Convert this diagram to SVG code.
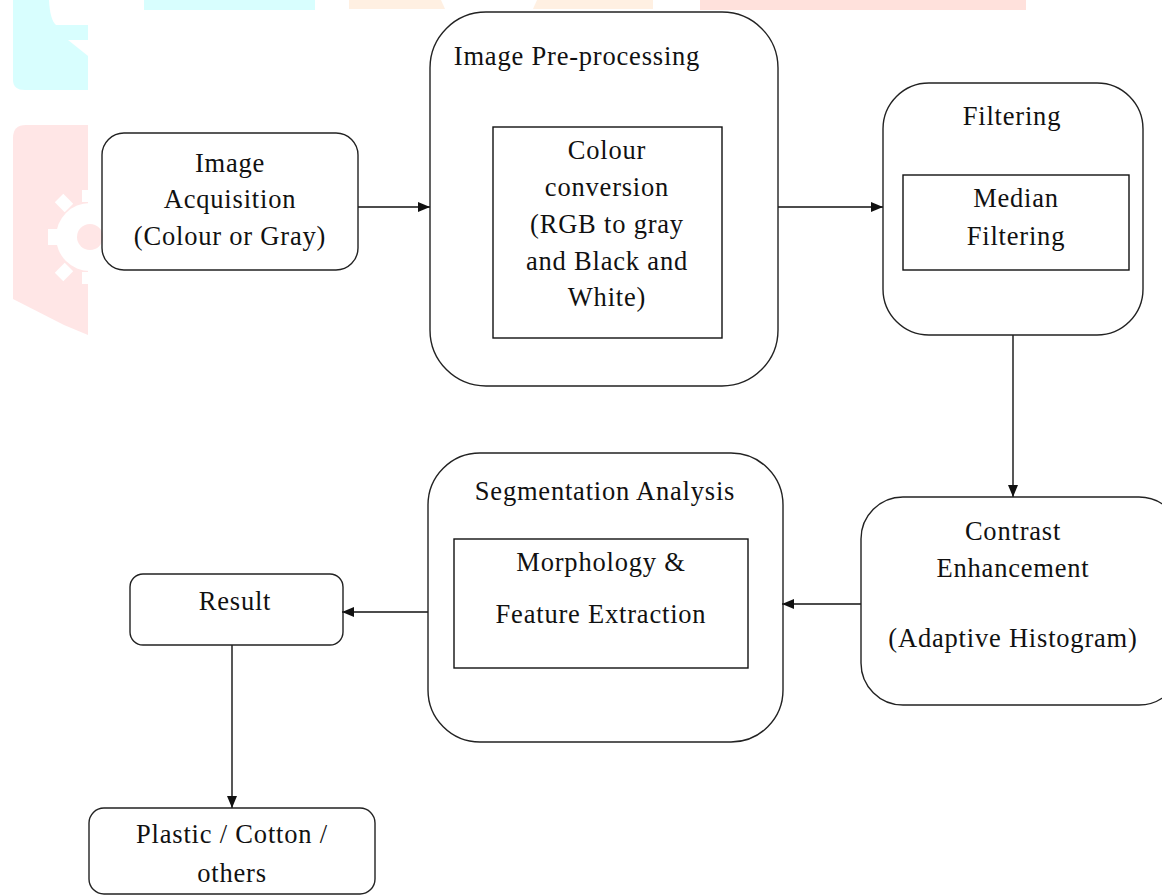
<svg xmlns="http://www.w3.org/2000/svg" width="1162" height="896" viewBox="0 0 1162 896">
<style>
.box{fill:none;stroke:#222;stroke-width:1.4}
.in{fill:none;stroke:#111;stroke-width:1.4}
.t{font-family:"Liberation Serif","Times New Roman",serif;font-size:26.5px;letter-spacing:0.8px;fill:#111;text-anchor:middle}
.c{stroke:#111;stroke-width:1.4;fill:none}
</style>
<defs>
<marker id="ah" markerWidth="12" markerHeight="10" refX="12" refY="5" orient="auto" markerUnits="userSpaceOnUse">
<path d="M0,0 L12,5 L0,10 Z" fill="#111"/>
</marker>
</defs>
<rect width="1162" height="896" fill="#fff"/>
<g id="watermark">
<path d="M13,0 H49 Q50,20 56,25 H88 V40 H68 L88,56 V90 H25 Q13,90 13,80 Z" fill="#d8fefe"/>
<rect x="144" y="0" width="171" height="10" fill="#d8fefe"/>
<path d="M349,0 H441 L445,9 H349 Z" fill="#fff0e2"/>
<path d="M537,0 H653 V9 H533 Z" fill="#fff0e2"/>
<rect x="700" y="0" width="326" height="10" fill="#ffe1dc"/>
<path d="M13,138 Q13,125 26,125 H88 V335 L64,325 L13,299 Z" fill="#ffe6e6"/>
<g fill="#fff">
<circle cx="90" cy="237" r="34"/>
<rect x="48" y="229" width="12" height="16"/>
<rect x="58" y="196" width="12" height="14" transform="rotate(-45 64 203)"/>
<rect x="58" y="265" width="12" height="14" transform="rotate(45 64 272)"/>
<rect x="82" y="190" width="14" height="12"/>
<rect x="82" y="272" width="14" height="12"/>
</g>
<circle cx="90" cy="237" r="13" fill="#ffe6e6"/>
</g>
<g id="connectors">
<line class="c" x1="358" y1="207" x2="430" y2="207" marker-end="url(#ah)"/>
<line class="c" x1="778" y1="207" x2="883" y2="207" marker-end="url(#ah)"/>
<line class="c" x1="1013" y1="335" x2="1013" y2="497" marker-end="url(#ah)"/>
<line class="c" x1="861" y1="604" x2="782" y2="604" marker-end="url(#ah)"/>
<line class="c" x1="428" y1="612" x2="342" y2="612" marker-end="url(#ah)"/>
<line class="c" x1="232" y1="645" x2="232" y2="808" marker-end="url(#ah)"/>
</g>
<g id="image-acquisition">
<rect class="box" x="102" y="133" width="256" height="137" rx="22"/>
<text class="t" x="230" y="172">Image</text>
<text class="t" x="230" y="208">Acquisition</text>
<text class="t" x="230" y="245">(Colour or Gray)</text>
</g>
<g id="image-preprocessing">
<rect class="box" x="430" y="12" width="348" height="374" rx="56"/>
<text class="t" x="577" y="65">Image Pre-processing</text>
<rect class="in" x="493" y="127" width="229" height="211"/>
<text class="t" x="607" y="159">Colour</text>
<text class="t" x="607" y="196">conversion</text>
<text class="t" x="607" y="233">(RGB to gray</text>
<text class="t" x="607" y="270">and Black and</text>
<text class="t" x="607" y="306">White)</text>
</g>
<g id="filtering">
<rect class="box" x="883" y="83" width="260" height="252" rx="46"/>
<text class="t" x="1012" y="125">Filtering</text>
<rect class="in" x="903" y="175" width="226" height="95"/>
<text class="t" x="1016" y="207">Median</text>
<text class="t" x="1016" y="245">Filtering</text>
</g>
<g id="contrast-enhancement">
<rect class="box" x="861" y="497" width="320" height="208" rx="42"/>
<text class="t" x="1013" y="540">Contrast</text>
<text class="t" x="1013" y="577">Enhancement</text>
<text class="t" x="1013" y="647">(Adaptive Histogram)</text>
</g>
<g id="segmentation-analysis">
<rect class="box" x="428" y="453" width="355" height="289" rx="52"/>
<text class="t" x="605" y="500">Segmentation Analysis</text>
<rect class="in" x="454" y="539" width="294" height="129"/>
<text class="t" x="601" y="571">Morphology &amp;</text>
<text class="t" x="601" y="623">Feature Extraction</text>
</g>
<g id="result">
<rect class="box" x="130" y="574" width="213" height="71" rx="13"/>
<text class="t" x="235" y="610">Result</text>
</g>
<g id="plastic-cotton-others">
<rect class="box" x="89" y="808" width="286" height="86" rx="15"/>
<text class="t" x="232" y="843">Plastic / Cotton /</text>
<text class="t" x="232" y="882">others</text>
</g>
</svg>
